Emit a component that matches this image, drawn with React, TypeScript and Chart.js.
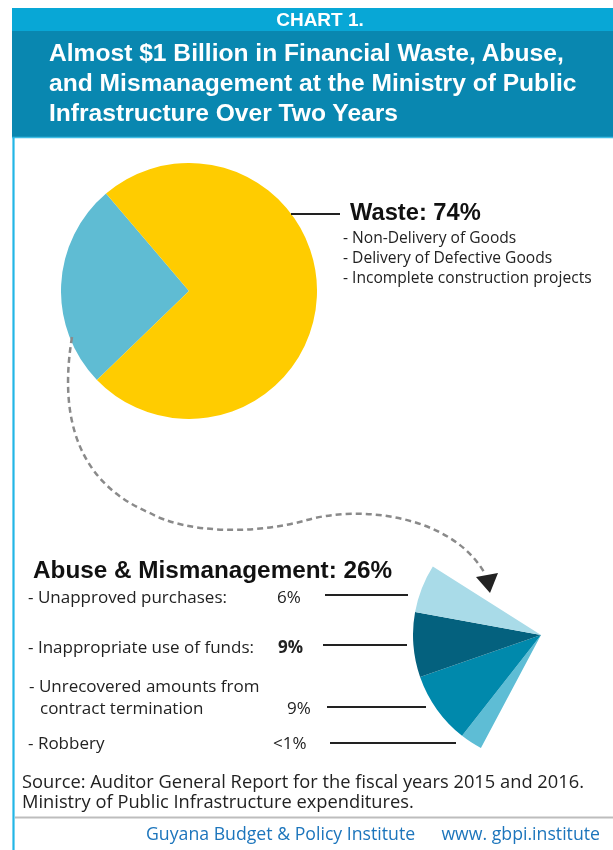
import React, { useEffect, useRef } from "react";
import { Chart, registerables } from "chart.js";

Chart.register(...registerables);

// ---- data ----
const mainLabels = ["Abuse & Mismanagement", "Waste"];
const mainValues = [26, 74];
const mainColors = ["#5FBCD3", "#FFCC00"];

// Abuse breakdown as drawn (share of the whole circle, %), clockwise from the bottom
const abuseLabels = ["Robbery", "Unrecovered amounts from contract termination", "Inappropriate use of funds", "Unapproved purchases"];
const abuseValues = [2.8, 9.1, 8.2, 6.1];
const abuseColors = ["#5EBDD5", "#0089AC", "#04617E", "#A9DBE8"];

const wasteItems = ["- Non-Delivery of Goods", "- Delivery of Defective Goods", "- Incomplete construction projects"];
const abuseItemText = [["- Unapproved purchases:"], ["- Inappropriate use of funds:"], ["- Unrecovered amounts from", "contract termination"], ["- Robbery"]];
const abuseItemPct = ["6%", "9%", "9%", "<1%"];

const titleLines = [
  "Almost $1 Billion in Financial Waste, Abuse,",
  "and Mismanagement at the Ministry of Public",
  "Infrastructure Over Two Years",
];
const sourceLines = [
  "Source: Auditor General Report for the fiscal years 2015 and 2016.",
  "Ministry of Public Infrastructure expenditures.",
];

function PieCanvas({ values, colors, labels, rotation, left, top, size }: any) {
  const ref = useRef<HTMLCanvasElement>(null);
  useEffect(() => {
    if (!ref.current) return;
    const chart = new Chart(ref.current, {
      type: "pie",
      data: {
        labels,
        datasets: [
          {
            data: values,
            backgroundColor: colors,
            borderWidth: 0,
            hoverOffset: 0,
            offset: 0,
          },
        ],
      },
      options: {
        animation: false,
        responsive: false,
        devicePixelRatio: 1,
        rotation,
        events: [],
        layout: { padding: 0 },
        plugins: { legend: { display: false }, tooltip: { enabled: false } },
      },
    });
    return () => chart.destroy();
  }, []);
  return (
    <canvas
      ref={ref}
      width={size}
      height={size}
      style={{ position: "absolute", left, top, width: size, height: size }}
    />
  );
}

export default function App() {
  const abuseTotal = abuseValues.reduce((a, b) => a + b, 0);
  const wedgeValues = [...abuseValues, 100 - abuseTotal];
  const wedgeColors = [...abuseColors, "rgba(0,0,0,0)"];
  const wedgeLabels = [...abuseLabels, ""];

  const body = "'Open Sans', Lato, sans-serif";
  const bold = "'Liberation Sans', Arial, sans-serif";

  const itemBaselines = [[602.5], [652.5], [691.5, 713.5], [749]];
  const itemX = [[28], [28], [29, 40], [28]];
  const pctX = [277, 278, 287, 273];
  const leaders = [
    [325, 408, 595],
    [323, 407, 645],
    [327, 426, 707],
    [330, 456, 743],
  ];

  return (
    <div style={{ position: "absolute", left: 0, top: 0, width: 613, height: 850, background: "#fff", overflow: "hidden" }}>
      <svg width={613} height={850} style={{ position: "absolute", left: 0, top: 0 }}>
        <rect x={12} y={8} width={601} height={23} fill="#08A7D6" />
        <rect x={12} y={31} width={601} height={106} fill="#0987B0" />
        <line x1={12} y1={137.5} x2={613} y2={137.5} stroke="#3FBDE4" strokeWidth={1.5} />
        <line x1={13.5} y1={137} x2={13.5} y2={850} stroke="#22B6E6" strokeWidth={2.2} />
        <line x1={15} y1={817.5} x2={613} y2={817.5} stroke="#BDBDBD" strokeWidth={2} />
      </svg>

      <PieCanvas values={mainValues} colors={mainColors} labels={mainLabels} rotation={226} left={61} top={163} size={256} />
      <PieCanvas values={wedgeValues} colors={wedgeColors} labels={wedgeLabels} rotation={208} left={413} top={507} size={256} />

      <svg width={613} height={850} style={{ position: "absolute", left: 0, top: 0, pointerEvents: "none" }}>
        <text x={320} y={26} textAnchor="middle" fill="#fff" fontFamily={bold} fontWeight="bold" fontSize={19}>CHART 1.</text>
        {titleLines.map((t, i) => (
          <text key={i} x={49} y={61 + i * 30} fill="#fff" fontFamily={bold} fontWeight="bold" fontSize={24.6}>{t}</text>
        ))}

        <line x1={291} y1={214} x2={340} y2={214} stroke="#222" strokeWidth={2} />
        <text x={350} y={220} fill="#111" fontFamily={bold} fontWeight="bold" fontSize={23.7}>Waste: 74%</text>
        {wasteItems.map((t, i) => (
          <text key={i} x={343} y={242.5 + i * 20} fill="#222" fontFamily={body} fontSize={15.6}>{t}</text>
        ))}

        <path d="M72,337 C55,440 95,490 150,513 C185,533 255,535 307,520 C360,505 450,515 484,572" fill="none" stroke="#8A8A8A" strokeWidth={2.5} strokeDasharray="6 4" />
        <polygon points="476,577 498,573 490,593" fill="#222" />

        <text x={33} y={577.5} fill="#111" fontFamily={bold} fontWeight="bold" fontSize={24.3}>Abuse &amp; Mismanagement: 26%</text>
        {abuseItemText.map((lines, i) => (
          <g key={i}>
            {lines.map((t, j) => (
              <text key={j} x={itemX[i][j]} y={itemBaselines[i][j]} fill="#222" fontFamily={body} fontSize={17}>{t}</text>
            ))}
            <text x={pctX[i]} y={itemBaselines[i][itemBaselines[i].length - 1]} fill="#222" fontFamily={body} fontSize={17} fontWeight={i === 1 ? "bold" : "normal"}>{abuseItemPct[i]}</text>
            <line x1={leaders[i][0]} y1={leaders[i][2]} x2={leaders[i][1]} y2={leaders[i][2]} stroke="#222" strokeWidth={2} />
          </g>
        ))}

        {sourceLines.map((t, i) => (
          <text key={i} x={22} y={788 + i * 20} fill="#222" fontFamily={body} fontSize={18.3}>{t}</text>
        ))}

        <text x={146} y={840} fill="#1C75BC" fontFamily={body} fontSize={17.7}>Guyana Budget &amp; Policy Institute</text>
        <text x={600} y={840} textAnchor="end" fill="#1C75BC" fontFamily={body} fontSize={17.7}>www. gbpi.institute</text>
      </svg>
    </div>
  );
}
